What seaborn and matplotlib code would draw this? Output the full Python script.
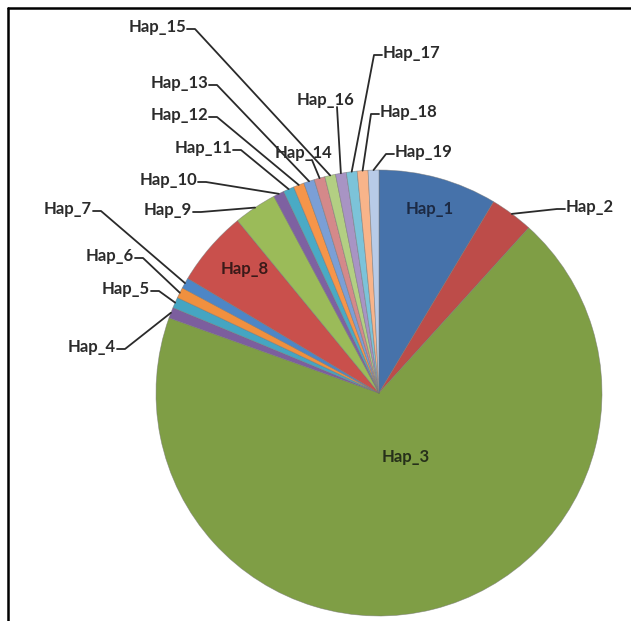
import matplotlib
matplotlib.use("Agg")
import matplotlib.pyplot as plt
from matplotlib.lines import Line2D
import seaborn as sns
import numpy as np

# Haplotype frequencies (counts)
haplotypes = ["Hap_1", "Hap_2", "Hap_3", "Hap_4", "Hap_5", "Hap_6", "Hap_7",
              "Hap_8", "Hap_9", "Hap_10", "Hap_11", "Hap_12", "Hap_13",
              "Hap_14", "Hap_15", "Hap_16", "Hap_17", "Hap_18", "Hap_19"]
counts = [11, 4, 88, 1, 1, 1, 1, 7, 4, 1, 1, 1, 1, 1, 1, 1, 1, 1, 1]

slice_colors = ["#4672AA", "#BD4C49", "#7F9E45", "#7C5E9E", "#45A5C2", "#F0903F",
                "#4D86C6", "#C9504C", "#9BBB59", "#7E61A1", "#4AAAC5", "#F6954A",
                "#7B9FD6", "#D4898A", "#B3CF83", "#A894C4", "#7CC3D9", "#F8B48A",
                "#B8CBE7"]

sns.set_theme(style="white")
plt.rcParams["font.family"] = ["Lato", "DejaVu Sans"]

W, H = 631, 621
fig = plt.figure(figsize=(W / 100, H / 100), dpi=100)
fig.patch.set_facecolor("white")

# pie geometry in pixels (top-left origin)
cx, cy, R = 379, 393, 223
ax = fig.add_axes([(cx - R) / W, (H - cy - R) / H, 2 * R / W, 2 * R / H])

palette = sns.color_palette(slice_colors)
wedges, _ = ax.pie(counts, colors=palette, startangle=90, counterclock=False,
                   wedgeprops=dict(edgecolor=(0.45, 0.45, 0.45, 0.6), linewidth=0.5))
ax.set_xlim(-1, 1)
ax.set_ylim(-1, 1)
ax.set_aspect("equal")
ax.axis("off")

text_color = "#2b2b2b"
fs = 12
fw = "bold"

# labels drawn inside their slices
inside = {"Hap_1": (430, 209), "Hap_8": (245, 269), "Hap_3": (406, 457)}
inside_colors = {"Hap_1": "#1c2a44", "Hap_8": "#3a1a19", "Hap_3": "#26301a"}

# outside labels: (x, y) in image pixels, alignment, leader style
outside = {
    "Hap_2":  (566, 207, "left", "side"),
    "Hap_4":  (116, 347, "right", "side"),
    "Hap_5":  (150, 289, "right", "side"),
    "Hap_6":  (134, 256, "right", "side"),
    "Hap_7":  (92, 209, "right", "side"),
    "Hap_9":  (192, 210, "right", "side"),
    "Hap_10": (197, 180, "right", "side"),
    "Hap_11": (232, 148, "right", "side"),
    "Hap_12": (208, 115, "right", "side"),
    "Hap_13": (208, 83, "right", "side"),
    "Hap_14": (304, 153, "center", "below"),
    "Hap_15": (186, 27, "right", "side"),
    "Hap_16": (325, 100, "center", "below"),
    "Hap_17": (383, 53, "left", "side"),
    "Hap_18": (380, 112, "left", "side"),
    "Hap_19": (395, 152, "left", "side"),
}

for name, (x, y) in inside.items():
    fig.text(x / W, 1 - y / H, name, ha="center", va="center",
             fontsize=fs, fontweight=fw, color=inside_colors[name])

texts = {}
for name, (x, y, ha, style) in outside.items():
    t = fig.text(x / W, 1 - y / H, name, ha=ha, va="center",
                 fontsize=fs, fontweight=fw, color=text_color)
    texts[name] = (t, ha, style)

fig.canvas.draw()
renderer = fig.canvas.get_renderer()

for w, name in zip(wedges, haplotypes):
    if name not in texts:
        continue
    t, ha, style = texts[name]
    bb = t.get_window_extent(renderer)
    mid = np.deg2rad((w.theta1 + w.theta2) / 2)
    rim = ax.transData.transform((np.cos(mid), np.sin(mid)))
    ymid = (bb.y0 + bb.y1) / 2
    if style == "below":
        p0 = ((bb.x0 + bb.x1) / 2 + (12 if name == "Hap_16" else 8), bb.y0 + 1)
        pts = [p0, rim]
    elif ha == "right":
        p0 = (bb.x1 + 1, ymid - 2)
        p1 = (bb.x1 + 9, ymid - 2)
        pts = [p0, p1, rim]
    else:
        p0 = (bb.x0 - 1, ymid - 2)
        p1 = (bb.x0 - 9, ymid - 2)
        pts = [p0, p1, rim]
    xs = [p[0] for p in pts]
    ys = [p[1] for p in pts]
    fig.add_artist(Line2D(xs, ys, transform=None, color="#2a2a2a", linewidth=1.3))

# chart frame (top and left edges)
fig.add_artist(Line2D([8 / W, 1], [1 - 8 / H, 1 - 8 / H], transform=fig.transFigure,
                      color="black", linewidth=1.8))
fig.add_artist(Line2D([8 / W, 8 / W], [0, 1 - 8 / H], transform=fig.transFigure,
                      color="black", linewidth=1.8))

fig.savefig("out.png", dpi=100)
